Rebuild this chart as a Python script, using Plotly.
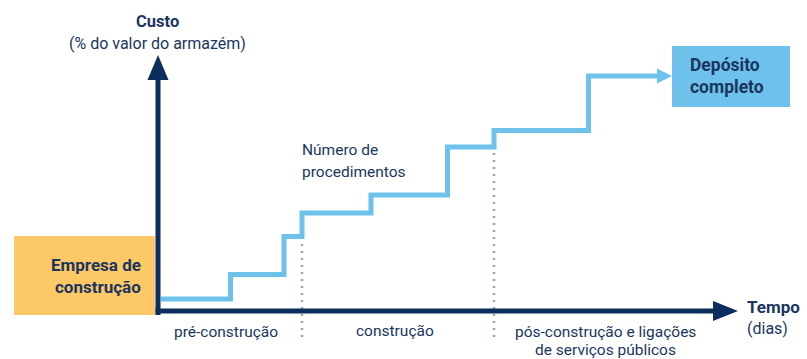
import plotly.graph_objects as go

# ---- data (time in arbitrary day units, cost in arbitrary % units) ----
step_days = [3, 72.5, 126, 144, 213, 289.5, 336, 430.5, 500]
step_cost = [12, 36.5, 74.5, 98, 116, 164, 180.5, 235, 235]
phase_labels = ["pré-construção", "construção", "pós-construção e ligações", "de serviços públicos"]
phase_bounds = [144, 336]
phase_bound_levels = [74.5, 164]

NAVY = "#0B2E5E"
TEXT = "#1A365F"
STEP = "#6EC1EA"
ORANGE = "#FDC866"
BOXBLUE = "#6EC1EA"
DOT = "#98A3C6"
FONT = "Roboto"

fig = go.Figure()

# step line
fig.add_trace(go.Scatter(x=step_days, y=step_cost, mode="lines",
                         line=dict(color=STEP, width=5, shape="hv"),
                         hoverinfo="skip", showlegend=False))

shapes = []
# dotted phase boundaries
for xb, lvl in zip(phase_bounds, phase_bound_levels):
    shapes.append(dict(type="line", x0=xb, x1=xb, y0=-26, y1=lvl - 3,
                       line=dict(color=DOT, width=2.5, dash="2px,5px"), layer="below"))

# orange box and blue box
shapes.append(dict(type="rect", x0=-144, x1=-3, y0=-4, y1=75,
                   fillcolor=ORANGE, line=dict(width=0), layer="below"))
shapes.append(dict(type="rect", x0=514, x1=632, y0=204, y1=265,
                   fillcolor=BOXBLUE, line=dict(width=0), layer="below"))

# axes
shapes.append(dict(type="line", x0=0, x1=0, y0=-4, y1=232, line=dict(color=NAVY, width=5)))
shapes.append(dict(type="path", path="M -10.5 231 L 10.5 231 L 0 256 Z",
                   fillcolor=NAVY, line=dict(width=0)))
shapes.append(dict(type="line", x0=-2.5, x1=556, y0=0, y1=0, line=dict(color=NAVY, width=5)))
shapes.append(dict(type="path", path="M 555 -10 L 555 10 L 580 0 Z",
                   fillcolor=NAVY, line=dict(width=0)))
# step-line arrowhead
xe, ye = step_days[-1], step_cost[-1]
shapes.append(dict(type="path",
                   path=f"M {xe-1} {ye-7.5} L {xe-1} {ye+7.5} L {xe+14} {ye} Z",
                   fillcolor=STEP, line=dict(width=0)))

ann = []
def txt(x, y, s, size=15, bold=False, xanchor="center"):
    ann.append(dict(x=x, y=y, text=f"<b>{s}</b>" if bold else s, showarrow=False,
                    xanchor=xanchor, yanchor="middle",
                    font=dict(family=FONT, size=size, color=TEXT)))

txt(-1, 290, "Custo", 16.5, True)
txt(-1, 268, "(% do valor do armazém)", 16)
txt(-15, 46, "Empresa de", 17, True, "right")
txt(-15, 24, "construção", 17, True, "right")
txt(142, 161, "Número de", 15.5, False, "left")
txt(142, 139, "procedimentos", 15.5, False, "left")
txt(530, 246, "Depósito", 17.5, True, "left")
txt(530, 224, "completo", 17.5, True, "left")
txt(587, 4, "Tempo", 17, True, "left")
txt(587, -17, "(dias)", 16, False, "left")
txt(67.5, -21, phase_labels[0], 15.5)
txt(237, -20, phase_labels[1], 15.5)
txt(447, -21, phase_labels[2], 15.5)
txt(447, -39, phase_labels[3], 15.5)

fig.update_layout(
    width=807, height=359, margin=dict(l=0, r=0, t=0, b=0),
    paper_bgcolor="white", plot_bgcolor="white",
    xaxis=dict(range=[-158, 649], visible=False, fixedrange=True),
    yaxis=dict(range=[-48, 311], visible=False, fixedrange=True),
    shapes=shapes, annotations=ann, showlegend=False,
)
fig.write_html("out.html", config={"displayModeBar": False},
               post_script="document.body.style.margin='0';document.body.style.overflow='hidden';")
